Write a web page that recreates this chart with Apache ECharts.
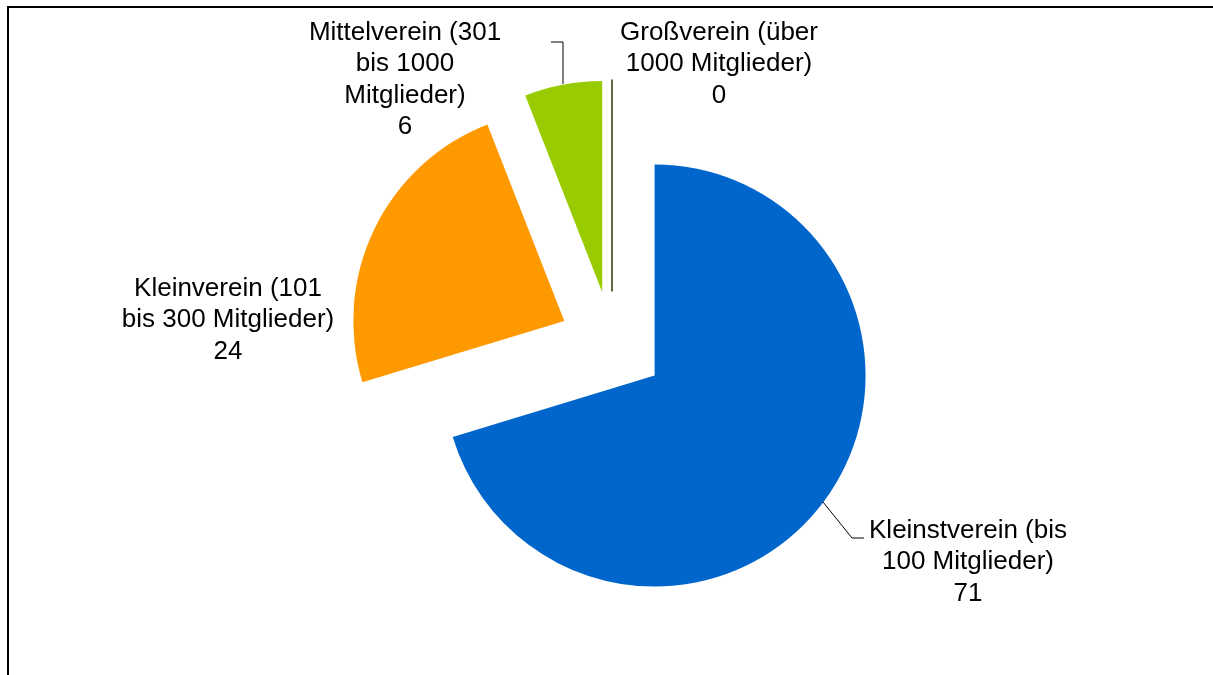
<!DOCTYPE html>
<html>
<head>
<meta charset="utf-8">
<script src="https://cdn.jsdelivr.net/npm/echarts@6/dist/echarts.min.js"></script>
<style>
    html, body { margin: 0; padding: 0; background: #fff; overflow: hidden; }
    #frame { position: absolute; left: 7px; top: 6px; width: 1300px; height: 800px;
             border-left: 2px solid #000; border-top: 2px solid #000; }
    #chart { position: absolute; left: 0; top: 0; width: 1213px; height: 675px; }
</style>
</head>
<body>
<div id="frame"></div>
<div id="chart"></div>
<script>
// Vereinsgröße nach Mitgliederzahl
const categories = [
    'Kleinstverein (bis\n100 Mitglieder)',
    'Kleinverein (101\nbis 300 Mitglieder)',
    'Mittelverein (301\nbis 1000\nMitglieder)',
    'Großverein (über\n1000 Mitglieder)'
];
const values = [71, 24, 6, 0];
const colors = ['#0066CC', '#FF9900', '#99CC00', '#333300'];

// label block centres and leader lines, in px
const labelPos = [[968, 562], [228, 320], [405, 80], [719, 64]];
const leaderLines = {
    0: [[823, 502], [852, 538], [864, 538]],
    2: [[563, 84], [563, 42], [551, 42]]
};

const chart = echarts.init(document.getElementById('chart'), null, { renderer: 'canvas' });

const pieBase = {
    type: 'pie',
    center: [612, 344],
    radius: 211,
    startAngle: 90,
    clockwise: true,
    avoidLabelOverlap: false,
    emphasis: { disabled: true }
};

chart.setOption({
    animation: false,
    backgroundColor: 'transparent',
    series: [
        // exploded slices
        Object.assign({}, pieBase, {
            selectedMode: 'multiple',
            selectedOffset: 53,
            label: { show: false },
            labelLine: { show: false },
            data: categories.map((name, i) => {
                const style = i === 3
                    ? { color: colors[i], borderColor: colors[i], borderWidth: 1.5 }
                    : { color: colors[i], borderWidth: 0 };
                return {
                    name: name,
                    value: values[i],
                    selected: true,
                    itemStyle: style,
                    select: { itemStyle: style }
                };
            })
        }),
        // data labels
        Object.assign({}, pieBase, {
            selectedMode: false,
            silent: true,
            z: 3,
            itemStyle: { color: 'rgba(0,0,0,0)', borderWidth: 0 },
            label: {
                show: true,
                position: 'outside',
                formatter: '{b}\n{c}',
                fontFamily: '"Liberation Sans", Arial, sans-serif',
                fontSize: 26,
                lineHeight: 31.5,
                color: '#000',
                align: 'center'
            },
            labelLine: {
                show: true,
                lineStyle: { color: '#000', width: 1 }
            },
            labelLayout: function (p) {
                const pos = labelPos[p.dataIndex];
                const out = { x: pos[0], y: pos[1], align: 'center', verticalAlign: 'middle' };
                if (leaderLines[p.dataIndex]) out.labelLinePoints = leaderLines[p.dataIndex];
                return out;
            },
            data: categories.map((name, i) => ({
                name: name,
                value: values[i],
                labelLine: { show: !!leaderLines[i] }
            }))
        })
    ]
});
</script>
</body>
</html>
